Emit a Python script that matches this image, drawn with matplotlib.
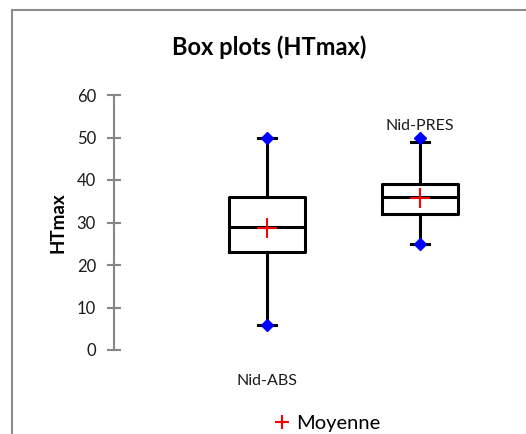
import numpy as np
import matplotlib
matplotlib.use("Agg")
import matplotlib.pyplot as plt
from matplotlib.patches import Rectangle
from matplotlib.lines import Line2D

# données
categories = ["Nid-ABS", "Nid-PRES"]
q1 = [23, 32]
median = [29, 36]
q3 = [36, 39]
whis_lo = [6, 25]
whis_hi = [50, 49]
mean = [28.6, 35.8]
minimum = [6, 25]
maximum = [50, 50]
label_y = [-7.3, 52.7]

plt.rcParams['font.family'] = ['Lato', 'DejaVu Sans']

fig = plt.figure(figsize=(5.26, 4.34), dpi=100)
ax = fig.add_axes([114 / 526, 1 - 350 / 434, 1 - 114 / 526, (350 - 95) / 434])

positions = np.arange(1, len(categories) + 1)
stats = []
for i, cat in enumerate(categories):
    stats.append(dict(label=cat, q1=q1[i], med=median[i], q3=q3[i],
                      whislo=whis_lo[i], whishi=whis_hi[i], mean=mean[i], fliers=[]))

ax.bxp(stats, positions=positions, widths=0.5, showmeans=True, patch_artist=False,
       boxprops=dict(color='black', linewidth=2.2),
       medianprops=dict(color='black', linewidth=2.2),
       whiskerprops=dict(color='black', linewidth=2.2),
       capprops=dict(color='black', linewidth=2.2),
       capwidths=0.12,
       meanprops=dict(marker='+', markeredgecolor='red', markersize=14, markeredgewidth=1.5),
       zorder=2)

# min / max en losanges bleus
ax.plot(positions, minimum, linestyle='none', marker='D', color='blue', markersize=6.5, zorder=3, clip_on=False)
ax.plot(positions, maximum, linestyle='none', marker='D', color='blue', markersize=6.5, zorder=3, clip_on=False)

for p, cat, ly in zip(positions, categories, label_y):
    ax.text(p, ly, cat, ha='center', va='center', fontsize=11.5, color='#1a1a1a', clip_on=False)

ax.set_xlim(0, 412 / 153)
ax.set_ylim(0, 60)
ax.set_yticks(range(0, 61, 10))
ax.set_xticks([])
for s in ['top', 'right', 'bottom']:
    ax.spines[s].set_visible(False)
ax.spines['left'].set_color('#868686')
ax.spines['left'].set_linewidth(1.5)
ax.tick_params(axis='y', direction='inout', length=10, width=1.5, color='#868686',
               labelsize=12, labelcolor='#1a1a1a', pad=8)
ax.set_ylabel('HTmax', fontsize=13.5, fontweight='bold', labelpad=7)

fig.text(269 / 526, 1 - 47 / 434, 'Box plots (HTmax)', ha='center', va='center',
         fontsize=17, fontweight='bold')

# légende
leg_handle = Line2D([], [], linestyle='none', marker='+', markeredgecolor='red',
                    markersize=10, markeredgewidth=1.5)
fig.legend([leg_handle], ['Moyenne'], loc='center', bbox_to_anchor=(328 / 526, 1 - 423 / 434),
           frameon=False, fontsize=14.5, handlelength=0.6, handletextpad=0.4,
           borderpad=0, borderaxespad=0)

# cadre du graphique
fig.patches.append(Rectangle((12 / 526, -0.1), 1.2, 1 - 10 / 434 + 0.1, transform=fig.transFigure,
                             fill=False, edgecolor='#8c8c8c', linewidth=1.5, clip_on=False))

fig.savefig('out.png', dpi=100)
